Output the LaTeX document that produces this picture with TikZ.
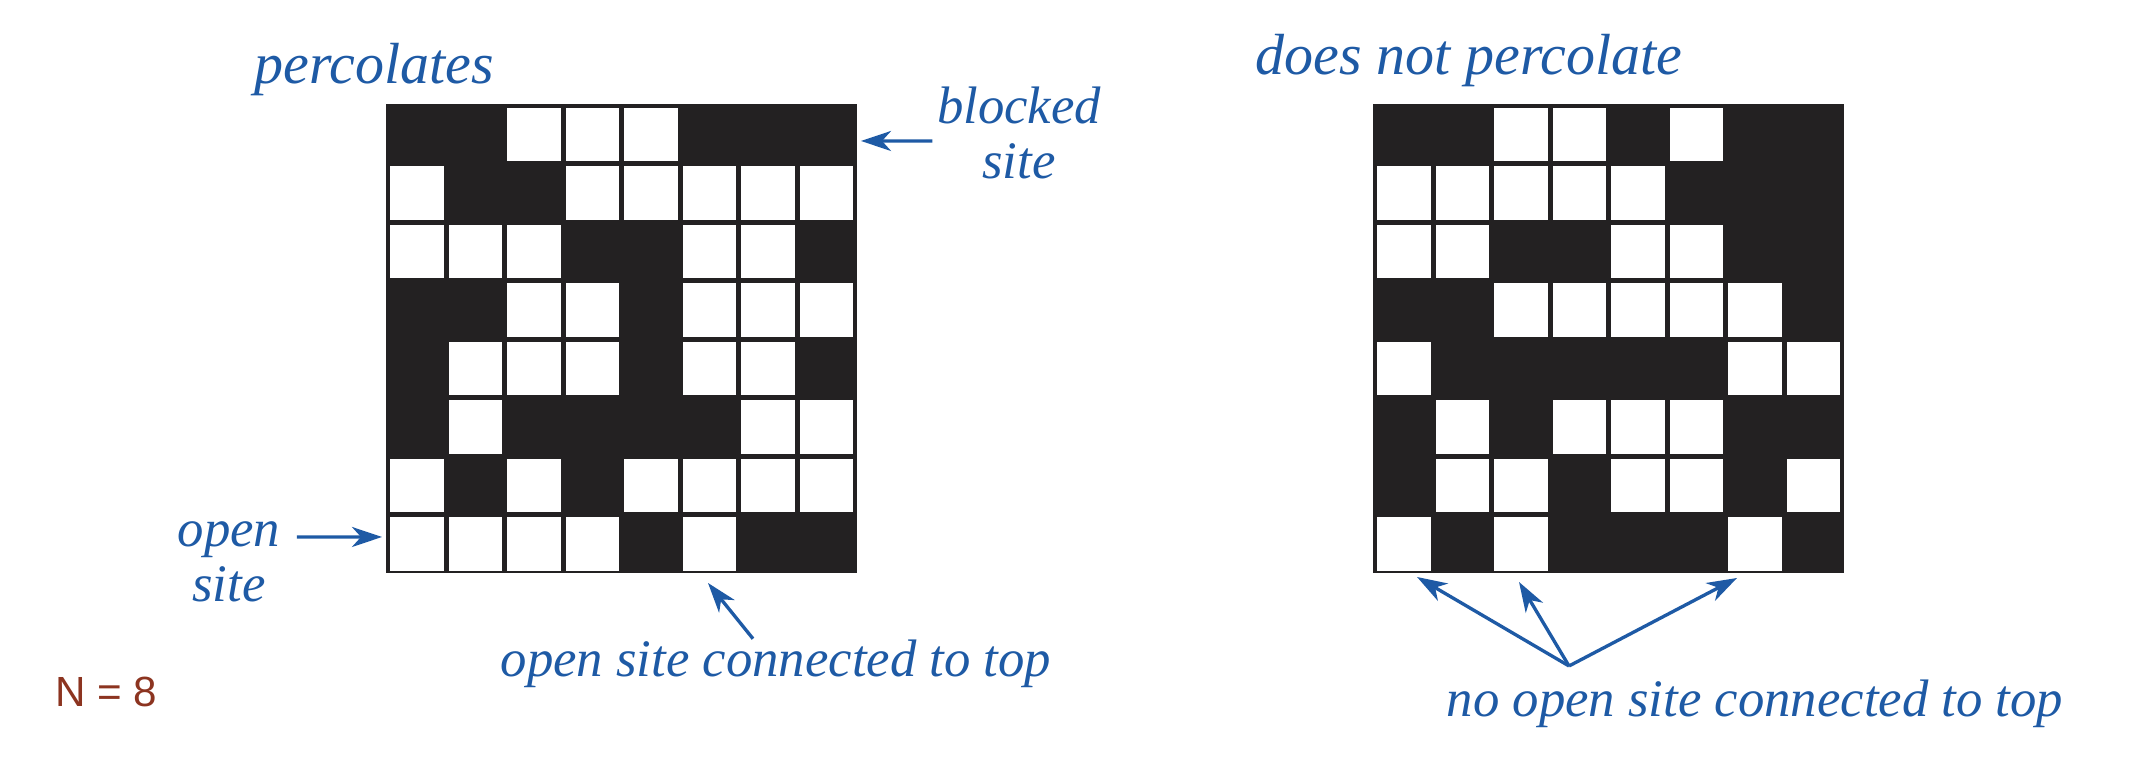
\documentclass[tikz,border=0pt]{standalone}
\usepackage{fontspec}
\setmainfont{Liberation Serif}
\setsansfont{Liberation Sans}
\usetikzlibrary{arrows.meta}

\definecolor{azul}{RGB}{30,90,165}
\definecolor{negro}{RGB}{35,33,34}
\definecolor{marron}{RGB}{140,52,32}

% rejilla NxN: #1 = borde izquierdo, #2 = filas (1 = abierto)
\newcommand{\rejilla}[2]{%
  \fill[negro] (#1,6.62) rectangle ++(4.71,-4.69);
  \foreach \fila [count=\r from 0] in {#2} {
    \foreach \b [count=\c from 0] in \fila {
      \ifnum\b=1 \fill[white] (#1+0.04+\c*0.585,6.58-\r*0.585) rectangle ++(0.535,-0.535);\fi
    }
  }%
}

\begin{document}
\begin{tikzpicture}[line width=0.95pt,>={Stealth[length=3mm,width=2mm,inset=0.9mm]},
  etiq/.style={text=azul,inner sep=0pt,align=center,font=\fontsize{15}{15.5}\selectfont\itshape},
  titulo/.style={etiq,font=\fontsize{16.5}{18}\selectfont\itshape},
  flecha/.style={->,draw=azul}]
  \useasboundingbox (0,0) rectangle (21.42,7.66);
  % percola
  \rejilla{3.86}{{0,0,1,1,1,0,0,0},{1,0,0,1,1,1,1,1},{1,1,1,0,0,1,1,0},{0,0,1,1,0,1,1,1},
                 {0,1,1,1,0,1,1,0},{0,1,0,0,0,0,1,1},{1,0,1,0,1,1,1,1},{1,1,1,1,0,1,0,0}}
  % no percola
  \rejilla{13.73}{{0,0,1,1,0,1,0,0},{1,1,1,1,1,0,0,0},{1,1,0,0,1,1,0,0},{0,0,1,1,1,1,1,0},
                  {1,0,0,0,0,0,1,1},{0,1,0,1,1,1,0,0},{0,1,1,0,1,1,0,1},{1,0,1,0,0,0,1,0}}
  % textos
  \node[titulo,anchor=base] (perc) at (3.74,6.82) {percolates};
  \node[titulo,anchor=base] (noperc) at (14.69,6.91) {does not percolate};
  \node[etiq] (bloq) at (10.19,6.33) {blocked\\site};
  \node[etiq] (abierto) at (2.29,2.04) {open\\site};
  \node[etiq,anchor=base] (conect) at (7.76,0.89) {open site connected to top};
  \node[etiq,anchor=base] (noconect) at (17.55,0.49) {no open site connected to top};
  \node[text=marron,inner sep=0pt,anchor=base,font=\sffamily\fontsize{12}{14}\selectfont] (enne) at (1.06,0.59) {N = 8};
  % flechas
  \coordinate (pbloq) at (8.61,6.25);
  \coordinate (pabierto) at (3.82,2.29);
  \coordinate (pconect) at (7.08,1.83);
  \coordinate (raiz) at (15.69,1.00);
  \coordinate (pa) at (14.17,1.89);
  \coordinate (pb) at (15.19,1.84);
  \coordinate (pc) at (17.37,1.88);
  \draw[flecha] ([xshift=-0.3mm,yshift=-0.8mm]bloq.west) -- (pbloq);
  \draw[flecha] ([xshift=1.5mm,yshift=2.5mm]abierto.east) -- (pabierto);
  \draw[flecha] ([xshift=-2.3mm]conect.north) -- (pconect);
  \draw[flecha] (raiz) -- (pa);
  \draw[flecha] (raiz) -- (pb);
  \draw[flecha] (raiz) -- (pc);
\end{tikzpicture}
\end{document}
